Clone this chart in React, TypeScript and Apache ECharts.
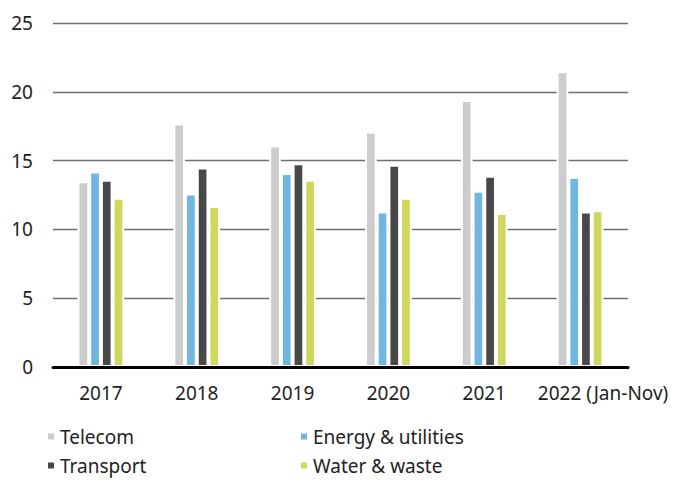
import React, { useEffect, useRef } from "react";
import * as echarts from "echarts";

const categories = ["2017", "2018", "2019", "2020", "2021", "2022 (Jan-Nov)"];
const telecom = [13.5, 17.7, 16.1, 17.1, 19.4, 21.5];
const energy = [14.2, 12.6, 14.1, 11.3, 12.8, 13.8];
const transport = [13.6, 14.5, 14.8, 14.7, 13.9, 11.3];
const water = [12.3, 11.7, 13.6, 12.3, 11.2, 11.4];
const yTicks = { min: 0, max: 25, interval: 5 };

const FONT = "'Noto Sans', 'Open Sans', sans-serif";
const TEXT = "#222222";

export default function App() {
  const ref = useRef<HTMLDivElement>(null);
  useEffect(() => {
    if (!ref.current) return;
    const chart = echarts.init(ref.current, undefined, { renderer: "svg" });
    const bar = (name: string, data: number[], color: string) => ({
      name,
      type: "bar",
      data,
      barWidth: 11.7,
      barGap: "0%",
      itemStyle: { color, borderColor: "#ffffff", borderWidth: 2 },
    });
    const legendCommon = {
      orient: "vertical",
      top: 427,
      height: 120,
      padding: 0,
      itemGap: 10,
      itemWidth: 8,
      itemHeight: 8,
      icon: "rect",
      textStyle: { fontFamily: FONT, fontSize: 19, color: TEXT },
    };
    chart.setOption({
      animation: false,
      textStyle: { fontFamily: FONT },
      grid: { left: 53, right: 50, top: 23, bottom: 113, containLabel: false },
      legend: [
        { ...legendCommon, left: 46, data: ["Telecom", "Transport"] },
        { ...legendCommon, left: 299, data: ["Energy & utilities", "Water & waste"] },
      ],
      xAxis: {
        type: "category",
        z: 10,
        data: categories.map((c, i) =>
          i === categories.length - 1
            ? { value: c, textStyle: { padding: [0, 0, 0, 46] } }
            : c
        ),
        axisLine: { show: true, lineStyle: { color: "#000000", width: 3 } },
        axisTick: { show: false },
        axisLabel: { margin: 16, fontSize: 19, color: TEXT, fontFamily: FONT, interval: 0 },
      },
      yAxis: {
        type: "value",
        min: yTicks.min,
        max: yTicks.max,
        interval: yTicks.interval,
        axisLine: { show: false },
        axisTick: { show: false },
        axisLabel: { margin: 20, fontSize: 19, color: TEXT, fontFamily: FONT },
        splitLine: { lineStyle: { color: "#707070", width: 1.3 } },
      },
      series: [
        bar("Telecom", telecom, "#cccccc"),
        bar("Energy & utilities", energy, "#6fb6e0"),
        bar("Transport", transport, "#484848"),
        bar("Water & waste", water, "#cfd75e"),
      ],
    });
    return () => chart.dispose();
  }, []);
  return (
    <div
      ref={ref}
      style={{ position: "fixed", left: 0, top: 0, width: 678, height: 480, background: "#fff" }}
    />
  );
}
